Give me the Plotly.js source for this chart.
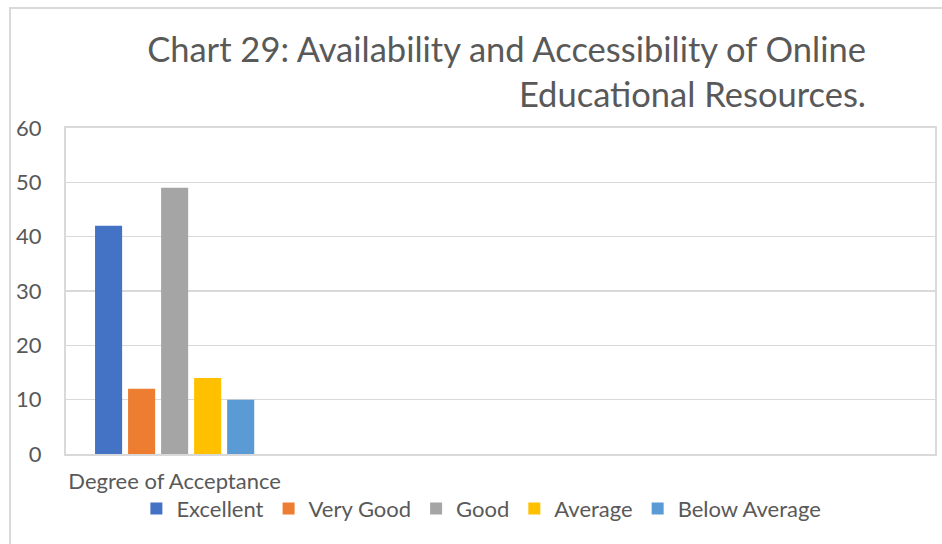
<!DOCTYPE html>
<html>
<head>
<meta charset="utf-8">
<script src="https://cdn.plot.ly/plotly-3.0.1.min.js"></script>
<style>
  html, body { margin:0; padding:0; background:#fff; overflow:hidden; }
  #wrap { position:relative; width:942px; height:544px; }
  #chart { width:942px; height:544px; }
  #frame { position:absolute; left:9px; top:7px; width:1000px; height:1000px;
           border:2px solid #d9d9d9; pointer-events:none; box-sizing:border-box; }
</style>
</head>
<body>
<div id="wrap">
  <div id="chart"></div>
  <div id="frame"></div>
</div>
<script>
const category = ["Degree of Acceptance"];
const seriesNames = ["Excellent", "Very Good", "Good", "Average", "Below Average"];
const seriesValues = [[42], [12], [49], [14], [10]];
const colors = ["#4472C4", "#ED7D31", "#A5A5A5", "#FFC000", "#5B9BD5"];
const yTicks = [0, 10, 20, 30, 40, 50, 60];

const FONT = "Lato, 'Open Sans', sans-serif";

const traces = seriesNames.map((name, i) => ({
  type: "bar",
  name: name,
  x: [0],
  y: seriesValues[i],
  marker: { color: colors[i] },
  hoverinfo: "y+name"
}));

const layout = {
  width: 942,
  height: 544,
  paper_bgcolor: "#fff",
  plot_bgcolor: "#fff",
  margin: { l: 66, r: 7, t: 128, b: 90 },
  font: { family: FONT, color: "#595959" },
  title: {
    text: "Chart 29: Availability and Accessibility of Online<br>Educational Resources.",
    font: { family: FONT, size: 34.5, color: "#595959" },
    xref: "container", x: 866 / 942, xanchor: "right",
    yref: "container", y: 1 - 62 / 544, yanchor: "top",
    align: "right"
  },
  barmode: "group",
  bargap: 0.24,
  bargroupgap: 0.18,
  showlegend: true,
  legend: {
    orientation: "h",
    x: 0.478, xanchor: "center",
    y: -0.168, yanchor: "middle",
    bgcolor: "rgba(0,0,0,0)",
    font: { family: FONT, size: 22, color: "#595959" },
    traceorder: "normal",
    itemclick: false
  },
  xaxis: {
    type: "linear",
    range: [-0.5, 3.5],
    tickvals: [0],
    ticktext: category,
    tickfont: { family: FONT, size: 22, color: "#595959" },
    showgrid: false,
    zeroline: false,
    showline: true, mirror: true, linecolor: "#d9d9d9", linewidth: 2,
    ticks: "",
    ticklabelstandoff: 7,
    fixedrange: true
  },
  yaxis: {
    range: [0, 60],
    tickvals: yTicks,
    tickfont: { family: FONT, size: 22, color: "#595959" },
    showgrid: true, gridcolor: "#d9d9d9", gridwidth: 1.5,
    zeroline: false,
    showline: true, mirror: true, linecolor: "#d9d9d9", linewidth: 2,
    ticks: "",
    ticklabelstandoff: 18,
    fixedrange: true
  }
};

Plotly.newPlot("chart", traces, layout, { displayModeBar: false, staticPlot: true });
</script>
</body>
</html>
